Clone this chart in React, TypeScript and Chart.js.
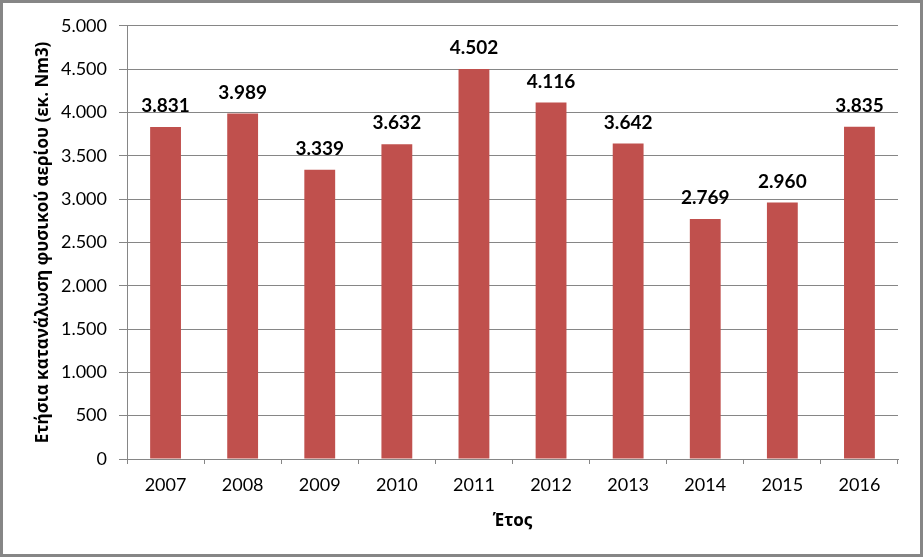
import React, { useEffect, useRef } from "react";
import { Chart, registerables } from "chart.js";

Chart.register(...registerables);

const categories = ["2007", "2008", "2009", "2010", "2011", "2012", "2013", "2014", "2015", "2016"];
const consumption = [3831, 3989, 3339, 3632, 4502, 4116, 3642, 2769, 2960, 3835];
const yTickLabels = ["0", "500", "1.000", "1.500", "2.000", "2.500", "3.000", "3.500", "4.000", "4.500", "5.000"];
const yAxisTitle = "Ετήσια κατανάλωση φυσικού αερίου (εκ. Nm3)";
const xAxisTitle = "Έτος";

const FONT = "Lato, 'Open Sans', sans-serif";
const GREEK_FONT = "'Open Sans', 'Noto Sans', sans-serif";

function fmt(v: number): string {
  return String(Math.round(v)).replace(/\B(?=(\d{3})+(?!\d))/g, ".");
}

const dataLabels = {
  id: "dataLabels",
  afterDatasetsDraw(chart: any) {
    const ctx = chart.ctx;
    const meta = chart.getDatasetMeta(0);
    ctx.save();
    ctx.font = `bold 19px ${FONT}`;
    ctx.fillStyle = "#000000";
    ctx.textAlign = "center";
    ctx.textBaseline = "middle";
    meta.data.forEach((bar: any, i: number) => {
      const v = chart.data.datasets[0].data[i];
      ctx.fillText(fmt(v), bar.x, bar.y - 21);
    });
    ctx.restore();
  },
};

export default function App() {
  const ref = useRef<HTMLCanvasElement | null>(null);
  useEffect(() => {
    document.body.style.margin = "0";
    if (!ref.current) return;
    const chart = new Chart(ref.current, {
      type: "bar",
      data: {
        labels: categories,
        datasets: [
          {
            data: consumption,
            backgroundColor: "#C0504D",
            borderWidth: 0,
            barPercentage: 0.4,
            categoryPercentage: 1.0,
          },
        ],
      },
      options: {
        animation: false,
        responsive: true,
        maintainAspectRatio: false,
        layout: { padding: { top: 22, right: 22, left: 0, bottom: 0 } },
        plugins: { legend: { display: false }, tooltip: { enabled: false } },
        scales: {
          x: {
            afterFit(scale: any) {
              scale.height = 95;
            },
            grid: {
              offset: true,
              drawOnChartArea: false,
              drawTicks: true,
              tickLength: 5,
              color: "#868686",
            },
            border: { display: true, color: "#868686", width: 1 },
            ticks: {
              color: "#000000",
              font: { family: FONT, size: 18 },
              padding: 10,
              maxRotation: 0,
            },
            title: {
              display: true,
              text: xAxisTitle,
              color: "#000000",
              font: { family: GREEK_FONT, size: 17, weight: "bold" },
              padding: { top: 0, bottom: 23 },
            },
          },
          y: {
            min: 0,
            max: 5000,
            afterFit(scale: any) {
              scale.width = 124;
            },
            ticks: {
              stepSize: 500,
              color: "#000000",
              font: { family: FONT, size: 18 },
              padding: 12,
              callback: (_v: any, i: number) => yTickLabels[i],
            },
            grid: {
              color: "#868686",
              drawTicks: true,
              tickLength: 8,
            },
            border: { display: true, color: "#868686", width: 1 },
            title: {
              display: true,
              text: yAxisTitle,
              color: "#000000",
              font: { family: GREEK_FONT, size: 17, weight: "bold" },
              padding: { top: 30, bottom: 0 },
            },
          },
        },
      },
      plugins: [dataLabels],
    });
    return () => chart.destroy();
  }, []);
  return (
    <div
      style={{
        position: "absolute",
        left: 0,
        top: 0,
        width: 923,
        height: 557,
        boxSizing: "border-box",
        border: "3px solid #868686",
        background: "#ffffff",
      }}
    >
      <div style={{ position: "relative", width: 917, height: 551 }}>
        <canvas ref={ref} />
      </div>
    </div>
  );
}
